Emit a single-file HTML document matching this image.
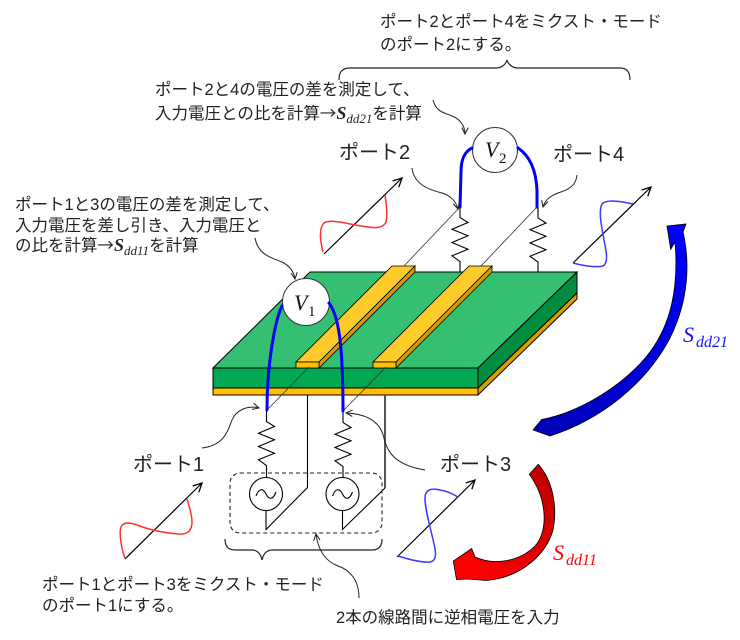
<!DOCTYPE html>
<html>
<head>
<meta charset="utf-8">
<style>
  html,body{margin:0;padding:0;background:#fff;}
  svg{display:block;}
  .t{font-family:"Liberation Sans","Noto Sans CJK JP",sans-serif;fill:#222;}
  .m{font-family:"Liberation Serif",serif;font-style:italic;}
  .a{font-family:"Noto Sans CJK JP",sans-serif;}
</style>
</head>
<body>
<svg width="740" height="640" viewBox="0 0 740 640" xmlns="http://www.w3.org/2000/svg">
  <defs>
    <marker id="ah" viewBox="0 0 10 10" refX="9" refY="5" markerWidth="8" markerHeight="8" markerUnits="userSpaceOnUse" orient="auto">
      <path d="M1,1 L9,5 L1,9" fill="none" stroke="#222" stroke-width="1.3"/>
    </marker>
    <marker id="ah2" viewBox="0 0 10 10" refX="9" refY="5" markerWidth="11" markerHeight="11" markerUnits="userSpaceOnUse" orient="auto">
      <path d="M1,1 L9,5 L1,9" fill="none" stroke="#000" stroke-width="1.2"/>
    </marker>
    <linearGradient id="gb" gradientUnits="userSpaceOnUse" x1="535" y1="430" x2="677" y2="226">
      <stop offset="0" stop-color="#0000b4"/>
      <stop offset="1" stop-color="#0000ff"/>
    </linearGradient>
    <linearGradient id="gr" gradientUnits="userSpaceOnUse" x1="534" y1="468" x2="458" y2="572">
      <stop offset="0" stop-color="#c00000"/>
      <stop offset="1" stop-color="#ff0000"/>
    </linearGradient>
  </defs>

  <!-- ===== Top texts ===== -->
  <text class="t" x="380" y="27" font-size="16.5">ポート2とポート4をミクスト・モード</text>
  <text class="t" x="380" y="50" font-size="16.5">のポート2にする。</text>
  <path d="M339,80 C339,72 342,68 350,68 L496,68 C502,68 506,64 507,60 C508,64 512,68 518,68 L620,68 C627,68 630,72 630,80" fill="none" stroke="#222" stroke-width="1.2"/>

  <text class="t" x="155" y="95" font-size="16.5">ポート2と4の電圧の差を測定して、</text>
  <text class="t" x="155" y="119" font-size="16.5">入力電圧との比を計算<tspan class="a">→</tspan><tspan class="m" font-size="18" font-weight="bold">S</tspan><tspan class="m" font-size="13" dy="4">dd21</tspan><tspan dy="-4">を計算</tspan></text>

  <text class="t" x="15" y="210" font-size="16.5">ポート1と3の電圧の差を測定して、</text>
  <text class="t" x="15" y="231" font-size="16.5">入力電圧を差し引き、入力電圧と</text>
  <text class="t" x="15" y="251" font-size="16.5">の比を計算<tspan class="a">→</tspan><tspan class="m" font-size="18" font-weight="bold">S</tspan><tspan class="m" font-size="13" dy="4">dd11</tspan><tspan dy="-4">を計算</tspan></text>

  <!-- Port labels -->
  <text class="t" x="339" y="159" font-size="20">ポート2</text>
  <text class="t" x="553" y="161" font-size="20">ポート4</text>
  <text class="t" x="133" y="471" font-size="20">ポート1</text>
  <text class="t" x="440" y="471" font-size="20">ポート3</text>

  <!-- Bottom texts -->
  <text class="t" x="42" y="590" font-size="16.5">ポート1とポート3をミクスト・モード</text>
  <text class="t" x="42" y="611" font-size="16.5">のポート1にする。</text>
  <text class="t" x="336" y="623" font-size="16.5">2本の線路間に逆相電圧を入力</text>

  <!-- ===== Board ===== -->
  <polygon points="310,272 577,272 478,368 213,368" fill="#35bf73" stroke="#000" stroke-width="1"/>
  <rect x="213" y="368" width="265" height="20" fill="#00a852" stroke="#000" stroke-width="1"/>
  <rect x="213" y="388" width="265" height="7" fill="#ffc000" stroke="#000" stroke-width="1"/>
  <polygon points="478,368 577,272 577,293 478,388" fill="#008c3e" stroke="#000" stroke-width="1"/>
  <polygon points="478,388 577,293 577,299 478,395" fill="#d99e00" stroke="#000" stroke-width="1"/>

  <!-- Traces -->
  <g stroke="#000" stroke-width="0.8">
    <polygon points="296,362 319,362 415,266 392,266" fill="#ffca2c"/>
    <polygon points="319,362 415,266 415,272 319,368" fill="#d69d00"/>
    <rect x="296" y="362" width="23" height="6" fill="#ffc000"/>
    <polygon points="373,362 396,362 492,266 469,266" fill="#ffca2c"/>
    <polygon points="396,362 492,266 492,272 396,368" fill="#d69d00"/>
    <rect x="373" y="362" width="23" height="6" fill="#ffc000"/>
  </g>

  <!-- Thin probe lines to traces -->
  <g stroke="#333" stroke-width="0.8" fill="none">
    <line x1="460" y1="207" x2="404" y2="266"/>
    <line x1="537" y1="207" x2="481" y2="266"/>
    <line x1="267" y1="410" x2="309" y2="367"/>
    <line x1="343" y1="411" x2="386" y2="367"/>
  </g>

  <!-- Resistors ports 2 & 4 -->
  <g stroke="#000" stroke-width="1.1" fill="none" stroke-linejoin="miter">
    <polyline points="460,207 460,217.5 468,222.5 452,229.2 468,235.8 452,242.5 468,249.2 452,255.8 460,261.5 460,272"/>
    <polyline points="538,207 538,218 546,223 530,229.7 546,236.3 530,243 546,249.7 530,256.3 538,262 538,272"/>
  </g>

  <!-- Resistors ports 1 & 3 + sources -->
  <g stroke="#000" stroke-width="1.1" fill="none">
    <polyline points="266.5,410 266.5,421.5 274.5,426.5 258.5,433.2 274.5,439.8 258.5,446.5 274.5,453.2 258.5,459.8 266.5,465.5 266.5,477.5"/>
    <polyline points="343,411 343,422.5 351,427.5 335,434.2 351,440.8 335,447.5 351,454.2 335,460.8 343,466.5 343,477.5"/>
    <circle cx="266" cy="494" r="16.5" fill="#fff"/>
    <circle cx="342.5" cy="494" r="16.5" fill="#fff"/>
    <path d="M256,496 C259,488 263,488 266,494 C269,500 273,500 276,492"/>
    <path d="M332.5,496 C335.5,488 339.5,488 342.5,494 C345.5,500 349.5,500 352.5,492"/>
    <polyline points="266,510.5 266,529.5 307.5,487.5 307.5,395"/>
    <polyline points="342.5,510.5 342.5,529.5 385,488"/>
  </g>
  <line x1="385" y1="395" x2="385" y2="488" stroke="#555" stroke-width="2"/>

  <!-- Dashed box -->
  <rect x="230" y="473" width="152" height="60" rx="10" ry="10" fill="none" stroke="#222" stroke-width="1.1" stroke-dasharray="4 3"/>
  <!-- bottom brace -->
  <path d="M225,539 C225,546 228,550 235,550 L252,550 C258,550 261,555 262,560 C263,555 266,550 272,550 L372,550 C379,550 382,546 382,539" fill="none" stroke="#222" stroke-width="1.2"/>

  <!-- V1 / V2 meters -->
  <circle cx="306" cy="302" r="23.5" fill="#fff" stroke="#333" stroke-width="1"/>
  <text class="m" x="294" y="310" font-size="22" fill="#111">V</text>
  <text font-family="Liberation Serif,serif" x="308" y="316" font-size="15" fill="#111">1</text>
  <circle cx="495" cy="150" r="22.5" fill="#fff" stroke="#333" stroke-width="1"/>
  <text class="m" x="485" y="157" font-size="22" fill="#111">V</text>
  <text font-family="Liberation Serif,serif" x="499" y="163" font-size="15" fill="#111">2</text>

  <!-- Blue wires -->
  <g stroke="#0000ff" stroke-width="3" fill="none" stroke-linecap="round">
    <path d="M282,306 C276,318 267,360 267,410"/>
    <path d="M329,303 C338,315 343,340 343,411"/>
    <path d="M472,148 C464,152 461,160 461,172 L460,207"/>
    <path d="M518,148 C530,156 536,170 537,190 L537,207"/>
  </g>

  <!-- Label arrows -->
  <g stroke="#222" stroke-width="1" fill="none" marker-end="url(#ah)">
    <path d="M255,238 C258,255 272,258 282,262 C290,266 294,272 295,279"/>
    <path d="M433,100 C436,112 445,113 452,116 C460,119 465,126 465,134"/>
    <path d="M412,168 C414,185 430,190 442,193 C452,196 456,202 458,209"/>
    <path d="M577,175 C576,186 568,190 558,193 C550,196 545,200 543,207"/>
    <path d="M202,448 C225,445 228,430 232,420 C236,410 248,405 259,408"/>
    <path d="M425,470 C395,465 387,452 384,438 C381,424 370,414 346,413"/>
    <path d="M359,598 C359,580 350,570 338,566 C325,561 318,550 316,534"/>
  </g>

  <!-- Wave arrows -->
  <g stroke="#000" stroke-width="1.2" fill="none" marker-end="url(#ah2)">
    <line x1="125" y1="559" x2="202" y2="483"/>
    <line x1="324" y1="254" x2="402" y2="178"/>
    <line x1="397" y1="557" x2="475" y2="480"/>
    <line x1="573" y1="263" x2="651" y2="187"/>
  </g>
  <g fill="none" stroke-width="1.5">
    <path stroke="#ff3030" d="M125,558 C121,548 119,532 121,527 C123,522 130,522 140,526 C150,530 165,533 178,534 C188,535 192,530 192,522 C192,514 189,506 187,499"/>
    <path stroke="#ff3030" d="M323,252 C320,240 319,228 324,223 C330,219 345,223 355,225 C368,227 382,231 386,222 C388,214 386,203 385,195"/>
    <path stroke="#3a3aff" d="M398,556 C405,558 420,563 430,562 C437,561 436,552 434,544 C431,530 425,510 425,498 C425,489 432,488 440,490 C447,491 453,494 458,497"/>
    <path stroke="#3a3aff" d="M573,263 C580,265 595,268 603,266 C609,263 606,250 604,240 C602,228 598,212 602,204 C606,199 620,201 633,204"/>
  </g>

  <!-- Big curved arrows -->
  <path d="M667,226 L686,224 L683,232 C690,262 689,300 670,338 C645,385 600,420 550,436 L533,430 L541.7,419.5 C580,412 625,385 650,352 C670,325 679,290 675,242 L670.7,249.3 Z" fill="url(#gb)" stroke="#000" stroke-width="0.8"/>
  <path d="M538.3,464.3 C552,480 558,505 553,530 C546,555 520,578 486,580.5 L468,579 L456.5,579.5 L453.3,561 L471.7,548.5 L475,557 C495,566 520,561 535,546 C548,532 548,500 529.3,474.3 Z" fill="url(#gr)" stroke="#000" stroke-width="0.8"/>

  <!-- S labels -->
  <text class="m" x="683" y="342" font-size="22" fill="#1010ff">S</text>
  <text class="m" x="696" y="347" font-size="16" fill="#1010ff">dd21</text>
  <text class="m" x="553" y="560" font-size="22" fill="#ff0000">S</text>
  <text class="m" x="566" y="565" font-size="16" fill="#ff0000">dd11</text>
</svg>
</body>
</html>
